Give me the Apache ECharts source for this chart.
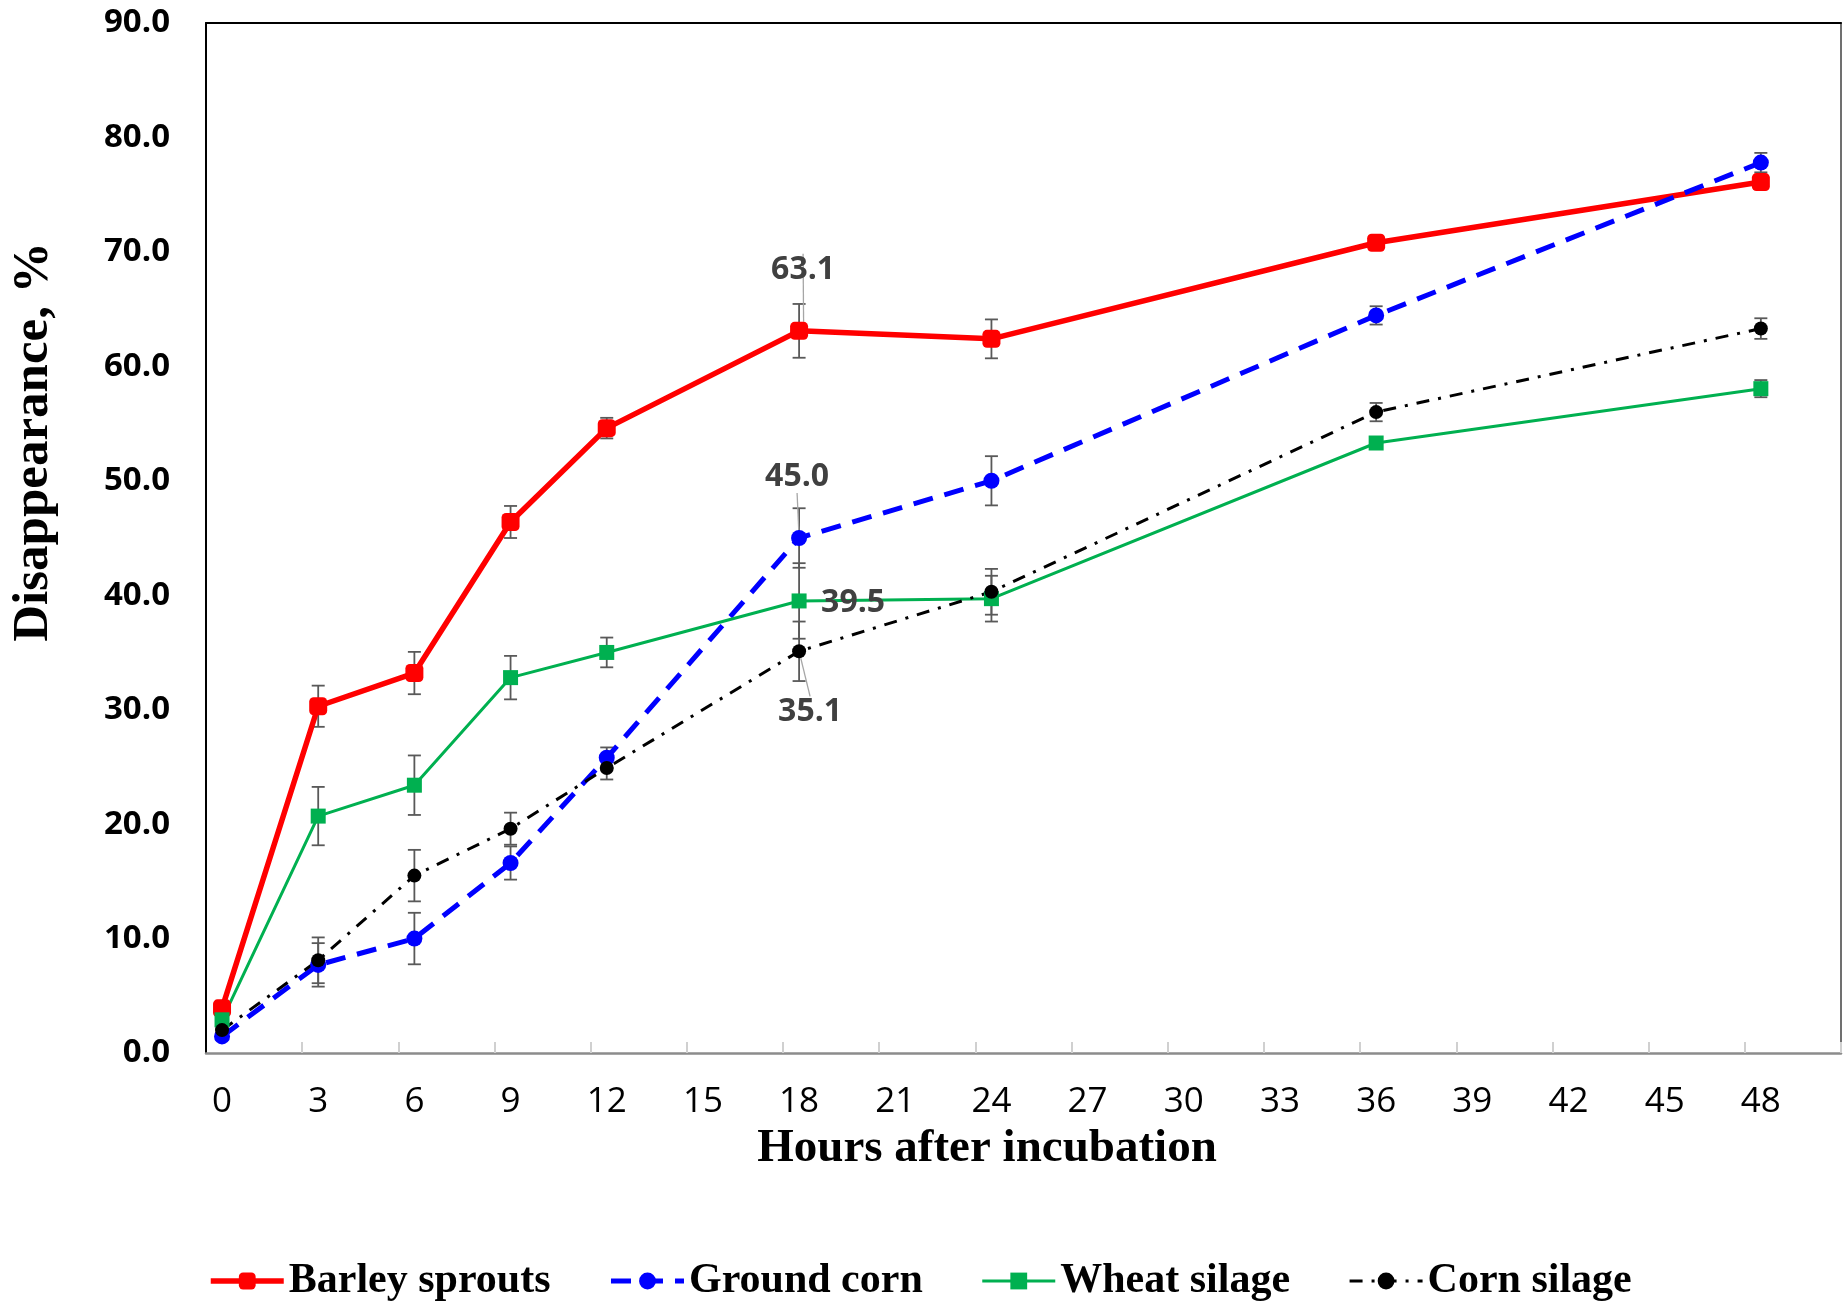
<!DOCTYPE html>
<html>
<head>
<meta charset="utf-8">
<script src="https://cdn.jsdelivr.net/npm/echarts@6/dist/echarts.min.js"></script>
<style>
html,body{margin:0;padding:0;background:#ffffff;}
#chart{width:1843px;height:1305px;}
</style>
</head>
<body>
<div id="chart"></div>
<script>
// ---- data ----
const hours = [0, 3, 6, 9, 12, 18, 24, 36, 48];
const xTickLabels = [0, 3, 6, 9, 12, 15, 18, 21, 24, 27, 30, 33, 36, 39, 42, 45, 48];
const yTickLabels = [0, 10, 20, 30, 40, 50, 60, 70, 80, 90];
const seriesNames = ['Barley sprouts', 'Ground corn', 'Wheat silage', 'Corn silage'];

const barley    = [3.9, 30.3, 33.2, 46.4, 54.6, 63.1, 62.4, 70.8, 76.1];
const barleyErr = [0.4, 1.8, 1.85, 1.4, 0.9, 2.35, 1.7, 0.3, 0.3];
const ground    = [1.45, 7.7, 10.0, 16.6, 25.8, 45.0, 50.0, 64.45, 77.8];
const groundErr = [0.3, 1.9, 2.25, 1.45, 0.9, 2.6, 2.15, 0.8, 0.85];
const wheat     = [2.9, 20.7, 23.4, 32.8, 35.0, 39.5, 39.7, 53.3, 58.05];
const wheatErr  = [0.3, 2.55, 2.6, 1.9, 1.3, 3.3, 2.0, 0.5, 0.75];
const corn      = [2.0, 8.1, 15.5, 19.6, 24.9, 35.1, 40.3, 56.0, 63.3];
const cornErr   = [0.3, 2.0, 2.25, 1.4, 1.0, 2.6, 2.0, 0.8, 0.9];
const labelledHour = 18;

// ---- styles ----
const serifFont = '"Liberation Serif", "Times New Roman", serif';
const sansFont = '"Open Sans", "Noto Sans", sans-serif';

const styles = [
  { color: '#ff0000', width: 5.5, type: 'solid', symbol: 'roundRect', size: 18, dx: 4, dy: -61, leader: true },
  { color: '#0000ff', width: 5, type: [20, 12], symbol: 'circle', size: 16, dx: -2, dy: -61, leader: true },
  { color: '#00b050', width: 3, type: 'solid', symbol: 'rect', size: 15, dx: 54, dy: 2, leader: false },
  { color: '#000000', width: 3, type: [13, 9, 3, 9], symbol: 'circle', size: 14, dx: 11, dy: 61, leader: true }
];

function lineSeries(name, vals, st) {
  return {
    type: 'line',
    name: name,
    z: 3,
    animation: false,
    data: hours.map(function (h, i) {
      if (h === labelledHour) {
        return {
          value: [h, vals[i]],
          label: { show: true },
          labelLine: { show: st.leader }
        };
      }
      return [h, vals[i]];
    }),
    symbol: st.symbol,
    symbolSize: st.size,
    showAllSymbol: true,
    lineStyle: { color: st.color, width: st.width, type: st.type, cap: 'butt' },
    itemStyle: { color: st.color },
    label: {
      show: false,
      position: 'inside',
      fontFamily: sansFont,
      fontWeight: 'bold',
      fontSize: 32,
      color: '#404040',
      formatter: function (p) { return p.value[1].toFixed(1); }
    },
    labelLayout: { dx: st.dx, dy: st.dy },
    labelLine: { show: false, lineStyle: { color: '#a6a6a6', width: 1.3 } },
    emphasis: { disabled: true }
  };
}

function errSeries(vals, errs) {
  return {
    type: 'custom',
    z: 2,
    silent: true,
    animation: false,
    data: hours.map(function (h, i) { return [h, vals[i] - errs[i], vals[i] + errs[i]]; }),
    encode: { x: 0, y: [1, 2] },
    renderItem: function (params, api) {
      const x = api.value(0);
      const lo = api.coord([x, api.value(1)]);
      const hi = api.coord([x, api.value(2)]);
      const w = 6.5;
      const st = { stroke: '#595959', lineWidth: 1.8 };
      return {
        type: 'group',
        children: [
          { type: 'line', shape: { x1: lo[0], y1: lo[1], x2: hi[0], y2: hi[1] }, style: st },
          { type: 'line', shape: { x1: lo[0] - w, y1: lo[1], x2: lo[0] + w, y2: lo[1] }, style: st },
          { type: 'line', shape: { x1: hi[0] - w, y1: hi[1], x2: hi[0] + w, y2: hi[1] }, style: st }
        ]
      };
    }
  };
}

const chart = echarts.init(document.getElementById('chart'), null, { renderer: 'canvas' });

const option = {
  backgroundColor: '#ffffff',
  animation: false,
  grid: { left: 206, right: 2, top: 23, bottom: 252, containLabel: false },
  xAxis: [
    {
      type: 'value',
      min: -0.5,
      max: 50.5,
      position: 'bottom',
      axisLine: { show: true, onZero: false, lineStyle: { color: '#8c8c8c', width: 2.5 } },
      axisTick: {
        show: true,
        inside: true,
        length: 11,
        customValues: xTickLabels.map(function (v) { return v + 2.5; }),
        lineStyle: { color: '#d0d0d0', width: 2 }
      },
      axisLabel: {
        show: true,
        customValues: xTickLabels,
        margin: 32,
        fontFamily: sansFont,
        fontSize: 35,
        color: '#000000',
        formatter: function (v) { return String(v); }
      },
      splitLine: { show: false }
    },
    {
      type: 'value',
      min: -0.5,
      max: 50.5,
      position: 'top',
      axisLine: { show: true, onZero: false, lineStyle: { color: '#000000', width: 2 } },
      axisTick: { show: false },
      axisLabel: { show: false },
      splitLine: { show: false }
    }
  ],
  yAxis: [
    {
      type: 'value',
      min: 0,
      max: 90,
      interval: 10,
      position: 'left',
      axisLine: { show: true, onZero: false, lineStyle: { color: '#000000', width: 2 } },
      axisTick: { show: false },
      axisLabel: {
        show: true,
        customValues: yTickLabels,
        margin: 36,
        fontFamily: sansFont,
        fontWeight: 'bold',
        fontSize: 33,
        color: '#000000',
        formatter: function (v) { return v.toFixed(1); }
      },
      splitLine: { show: false }
    },
    {
      type: 'value',
      min: 0,
      max: 90,
      interval: 10,
      position: 'right',
      axisLine: { show: true, onZero: false, lineStyle: { color: '#404040', width: 1.5 } },
      axisTick: { show: false },
      axisLabel: { show: false },
      splitLine: { show: false }
    }
  ],
  legend: {
    data: seriesNames.map(function (n, i) {
      return {
        name: n,
        lineStyle: { color: styles[i].color, width: styles[i].width, type: styles[i].type === 'solid' ? 'solid' : styles[i].type }
      };
    }),
    left: 203,
    top: 1255,
    itemWidth: 73,
    itemHeight: 21,
    itemGap: 58,
    selectedMode: false,
    textStyle: { fontFamily: serifFont, fontWeight: 'bold', fontSize: 42, color: '#000000' }
  },
  graphic: [
    {
      type: 'text',
      x: 987,
      y: 1149,
      style: {
        text: 'Hours after incubation',
        fontFamily: serifFont,
        fontWeight: 'bold',
        fontSize: 47,
        fill: '#000000',
        align: 'center',
        verticalAlign: 'middle'
      }
    },
    {
      type: 'text',
      x: 34,
      y: 442,
      rotation: Math.PI / 2,
      style: {
        text: 'Disappearance, %',
        fontFamily: serifFont,
        fontWeight: 'bold',
        fontSize: 51,
        fill: '#000000',
        align: 'center',
        verticalAlign: 'middle'
      }
    }
  ],
  series: [
    errSeries(barley, barleyErr),
    errSeries(ground, groundErr),
    errSeries(wheat, wheatErr),
    errSeries(corn, cornErr),
    lineSeries(seriesNames[0], barley, styles[0]),
    lineSeries(seriesNames[1], ground, styles[1]),
    lineSeries(seriesNames[2], wheat, styles[2]),
    lineSeries(seriesNames[3], corn, styles[3])
  ]
};

chart.setOption(option);
</script>
</body>
</html>
